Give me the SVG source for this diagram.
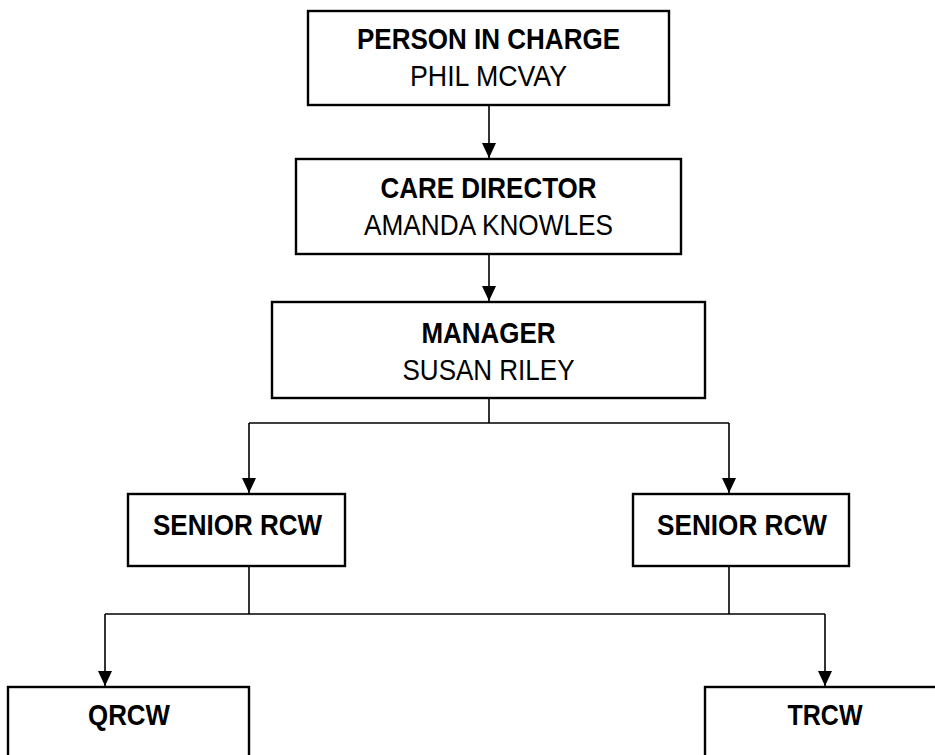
<svg xmlns="http://www.w3.org/2000/svg" width="935" height="755" viewBox="0 0 935 755">
<style>
  .box { fill: #ffffff; stroke: #000000; stroke-width: 2.4; }
  .conn { fill: none; stroke: #000000; stroke-width: 1.6; }
  .t { font-family: "Liberation Sans", Arial, sans-serif; font-size: 29.5px; fill: #000000; text-anchor: middle; }
  .b { font-weight: bold; }
</style>
<defs>
  <marker id="arr" markerUnits="userSpaceOnUse" viewBox="0 0 15 14" refX="15" refY="7" markerWidth="15" markerHeight="14" orient="auto">
    <path d="M0,0 L15,7 L0,14 Z" fill="#000000"/>
  </marker>
</defs>
<rect width="935" height="755" fill="#ffffff"/>
<g id="connectors">
  <path class="conn" d="M489,106 L489,158" marker-end="url(#arr)"/>
  <path class="conn" d="M489,255 L489,301" marker-end="url(#arr)"/>
  <path class="conn" d="M489,399 L489,423"/>
  <path class="conn" d="M249,423 L729,423"/>
  <path class="conn" d="M249,423 L249,493" marker-end="url(#arr)"/>
  <path class="conn" d="M729,423 L729,493" marker-end="url(#arr)"/>
  <path class="conn" d="M249,567 L249,614"/>
  <path class="conn" d="M729,567 L729,614"/>
  <path class="conn" d="M105,614 L825,614"/>
  <path class="conn" d="M105,614 L105,686" marker-end="url(#arr)"/>
  <path class="conn" d="M825,614 L825,686" marker-end="url(#arr)"/>
</g>
<g id="person-in-charge">
  <rect class="box" x="308" y="11" width="361" height="94"/>
  <text class="t b" x="488.5" y="49" textLength="263" lengthAdjust="spacingAndGlyphs">PERSON IN CHARGE</text>
  <text class="t" x="488.5" y="86" textLength="157" lengthAdjust="spacingAndGlyphs">PHIL MCVAY</text>
</g>
<g id="care-director">
  <rect class="box" x="296" y="159" width="385" height="95"/>
  <text class="t b" x="488.5" y="198" textLength="216" lengthAdjust="spacingAndGlyphs">CARE DIRECTOR</text>
  <text class="t" x="488.5" y="235" textLength="249" lengthAdjust="spacingAndGlyphs">AMANDA KNOWLES</text>
</g>
<g id="manager">
  <rect class="box" x="272" y="302" width="433" height="96"/>
  <text class="t b" x="488.5" y="343" textLength="134" lengthAdjust="spacingAndGlyphs">MANAGER</text>
  <text class="t" x="488.5" y="380" textLength="172" lengthAdjust="spacingAndGlyphs">SUSAN RILEY</text>
</g>
<g id="senior-rcw-left">
  <rect class="box" x="128" y="494" width="217" height="72"/>
  <text class="t b" x="237.5" y="535" textLength="169" lengthAdjust="spacingAndGlyphs">SENIOR RCW</text>
</g>
<g id="senior-rcw-right">
  <rect class="box" x="633" y="494" width="216" height="72"/>
  <text class="t b" x="742" y="535" textLength="170" lengthAdjust="spacingAndGlyphs">SENIOR RCW</text>
</g>
<g id="qrcw">
  <rect class="box" x="8" y="687" width="241" height="90"/>
  <text class="t b" x="129" y="725" textLength="82" lengthAdjust="spacingAndGlyphs">QRCW</text>
</g>
<g id="trcw">
  <rect class="box" x="705" y="687" width="260" height="90"/>
  <text class="t b" x="825" y="725" textLength="75" lengthAdjust="spacingAndGlyphs">TRCW</text>
</g>
</svg>
